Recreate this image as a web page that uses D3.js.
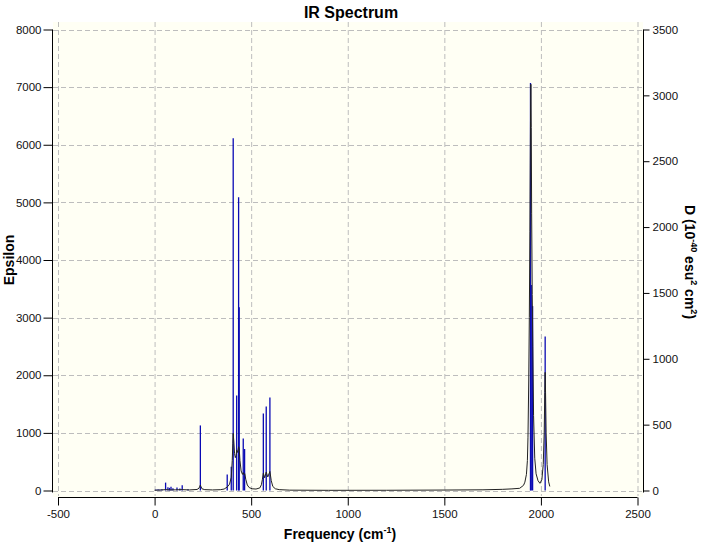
<!DOCTYPE html>
<html>
<head>
  <meta charset="utf-8">
  <script src="https://d3js.org/d3.v7.min.js"></script>
  <style>
    body { margin: 0; background: #fff; }
    text { font-family: "Liberation Sans", Arial, sans-serif; }
  </style>
</head>
<body>
  <div id="my_dataviz"></div>
<script>

  // stick spectrum: frequency (cm-1) and dipole strength D (right axis)
  var stickFreq = [7, 18, 28, 38, 57, 69, 77, 85, 95, 116, 131, 143, 173, 237,
                   376, 397, 407, 425, 435, 438, 459, 466,
                   563, 578, 597,
                   1946, 1950, 1957, 2022];
  var stickD = [8, 10, 8, 10, 60, 25, 20, 28, 18, 22, 15, 40, 10, 494,
                121, 180, 2675, 722, 2227, 1391, 395, 315,
                585, 638, 707,
                3093, 1560, 1400, 1170];

  // broadened curve: frequency and epsilon (left axis)
  var curveFreq = [0, 30, 57, 80, 110, 143, 180, 220, 230, 234, 237, 240, 245, 260, 300, 340,
                   360, 376, 388, 397, 402, 405, 407, 410, 414, 418, 422, 425, 430, 435, 438, 442,
                   448, 455, 459, 463, 467, 472, 480, 490, 505, 525, 545, 553, 558, 563, 570, 578,
                   586, 597, 604, 612, 625, 645, 700, 900, 1200, 1500, 1700, 1800, 1850, 1890,
                   1910, 1917, 1925, 1930, 1933, 1937, 1940, 1943, 1946, 1948, 1950, 1952, 1955,
                   1958, 1962, 1968, 1975, 1985, 1995, 2005, 2012, 2017, 2020, 2022, 2024, 2027,
                   2032, 2040, 2046];
  var curveEps = [5, 8, 15, 10, 12, 15, 10, 18, 40, 75, 95, 70, 30, 15, 10, 14,
                  25, 60, 110, 230, 520, 820, 990, 860, 640, 570, 610, 700, 660, 760, 730, 520,
                  340, 280, 310, 275, 290, 195, 95, 50, 30, 25, 45, 100, 190, 300, 220, 320,
                  235, 330, 170, 70, 30, 15, 6, 3, 4, 8, 12, 20, 28, 38,
                  90, 145, 280, 520, 925, 1900, 3000, 4500, 6400, 7050, 6300, 4800, 3400,
                  2500, 1300, 560, 290, 170, 125, 190, 450, 1000, 1700, 2050, 1700, 1000,
                  450, 150, 70];

  var xTicks = [-500, 0, 500, 1000, 1500, 2000, 2500];
  var yLeftTicks = [0, 1000, 2000, 3000, 4000, 5000, 6000, 7000, 8000];
  var yRightTicks = [0, 500, 1000, 1500, 2000, 2500, 3000, 3500];

  var W = 702, H = 547;
  var fmt = function(d) { return String(d); };  // plain hyphen for negatives

  var svg = d3.select("#my_dataviz")
    .append("svg")
      .attr("width", W)
      .attr("height", H);

  var x = d3.scaleLinear().domain([-500, 2500]).range([58, 637.5]);
  var yL = d3.scaleLinear().domain([0, 8000]).range([490.5, 29.5]);
  var yR = d3.scaleLinear().domain([0, 3500]).range([490.5, 29.5]);

  // plot background
  svg.append("rect")
    .attr("x", 53).attr("y", 22)
    .attr("width", 590).attr("height", 475)
    .attr("fill", "#fffff4");

  // grid
  svg.append("g").selectAll("line")
    .data(xTicks).enter().append("line")
      .attr("x1", function(d) { return x(d) + 0.5; })
      .attr("x2", function(d) { return x(d) + 0.5; })
      .attr("y1", 22).attr("y2", 496)
      .attr("stroke", "#bdbdbd")
      .attr("stroke-dasharray", "5,3");
  svg.append("g").selectAll("line")
    .data(yLeftTicks).enter().append("line")
      .attr("x1", 53).attr("x2", 643)
      .attr("y1", function(d) { return Math.round(yL(d)) + 0.5; })
      .attr("y2", function(d) { return Math.round(yL(d)) + 0.5; })
      .attr("stroke", "#bdbdbd")
      .attr("stroke-dasharray", "5,3");

  // left axis
  var left = svg.append("g").attr("transform", "translate(52.5,0)");
  left.call(d3.axisLeft(yL).tickValues(d3.range(0, 8001, 500)).tickSize(6).tickFormat(""));
  left.call(d3.axisLeft(yL).tickValues(yLeftTicks).tickSize(9).tickPadding(2).tickFormat(fmt));
  left.selectAll(".domain").attr("d", "M0," + yL(8000) + "V" + (yL(0) + 2));
  left.selectAll("text").attr("font-size", "11.5px").attr("font-family", "Liberation Sans, Arial").attr("fill", "#111");

  // right axis
  var right = svg.append("g").attr("transform", "translate(643.5,0)");
  right.call(d3.axisRight(yR).tickValues(yRightTicks).tickSize(6).tickPadding(3).tickFormat(fmt));
  right.selectAll(".domain").attr("d", "M0," + yR(3500) + "V" + (yR(0) + 2));
  right.selectAll("text").attr("font-size", "11.5px").attr("font-family", "Liberation Sans, Arial").attr("fill", "#111");

  // bottom axis
  var bottom = svg.append("g").attr("transform", "translate(0,497.5)");
  bottom.call(d3.axisBottom(x).tickValues(d3.range(-500, 2501, 50)).tickSize(5).tickFormat(""));
  bottom.call(d3.axisBottom(x).tickValues(xTicks).tickSize(8).tickPadding(4).tickFormat(fmt));
  bottom.selectAll(".domain").attr("d", "M" + x(-500) + ",0H" + x(2500));
  bottom.selectAll("text").attr("font-size", "11.5px").attr("font-family", "Liberation Sans, Arial").attr("fill", "#111");

  // sticks
  var sticks = stickFreq.map(function(f, i) { return {f: f, d: stickD[i]}; });
  svg.append("g").selectAll("line")
    .data(sticks).enter().append("line")
      .attr("x1", function(d) { return x(d.f); })
      .attr("x2", function(d) { return x(d.f); })
      .attr("y1", yR(0))
      .attr("y2", function(d) { return yR(d.d); })
      .attr("stroke", "#0a0ab4")
      .attr("stroke-width", 1.3);

  // curve
  var curve = curveFreq.map(function(f, i) { return {f: f, e: curveEps[i]}; });
  svg.append("path")
    .datum(curve)
    .attr("fill", "none")
    .attr("stroke", "#222")
    .attr("stroke-width", 1)
    .attr("d", d3.line()
      .x(function(d) { return x(d.f); })
      .y(function(d) { return yL(d.e); }));

  // titles
  svg.append("text")
    .attr("x", 351).attr("y", 18)
    .attr("text-anchor", "middle")
    .attr("font-size", "16px").attr("font-weight", "bold")
    .text("IR Spectrum");

  var xt = svg.append("text")
    .attr("x", 340).attr("y", 539)
    .attr("text-anchor", "middle")
    .attr("font-size", "14px").attr("font-weight", "bold");
  xt.append("tspan").text("Frequency (cm");
  xt.append("tspan").attr("font-size", "9px").attr("dy", -6).text("-1");
  xt.append("tspan").attr("dy", 6).text(")");

  svg.append("text")
    .attr("transform", "translate(14,260) rotate(-90)")
    .attr("text-anchor", "middle")
    .attr("font-size", "14px").attr("font-weight", "bold")
    .text("Epsilon");

  var rt = svg.append("text")
    .attr("transform", "translate(685,262) rotate(90)")
    .attr("text-anchor", "middle")
    .attr("font-size", "14px").attr("font-weight", "bold");
  rt.append("tspan").text("D (10");
  rt.append("tspan").attr("font-size", "9px").attr("dy", -6).text("-40");
  rt.append("tspan").attr("dy", 6).text(" esu");
  rt.append("tspan").attr("font-size", "9px").attr("dy", -6).text("2");
  rt.append("tspan").attr("dy", 6).text(" cm");
  rt.append("tspan").attr("font-size", "9px").attr("dy", -6).text("2");
  rt.append("tspan").attr("dy", 6).text(")");

</script>
</body>
</html>
